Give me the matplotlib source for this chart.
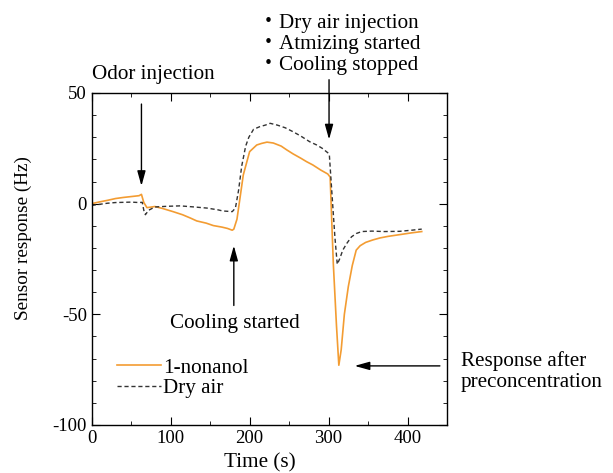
import matplotlib
matplotlib.use("Agg")
import matplotlib.pyplot as plt
from matplotlib.ticker import MultipleLocator

plt.rcParams['font.family'] = ['Liberation Serif', 'Noto Sans CJK JP']
plt.rcParams['axes.unicode_minus'] = False

# 1-nonanol response
t_nonanol = [0, 10, 20, 30, 40, 50, 60, 63, 66, 70, 80, 90, 103, 115, 125, 133, 145, 154, 165, 172, 178,
             180, 184, 188, 192, 200, 209, 215, 222, 230, 240, 247, 255, 265, 272, 280, 290, 299,
             302, 306, 310, 313, 316, 320, 325, 330, 335, 340, 347, 356, 365, 375, 390, 405, 418]
y_nonanol = [0, 0.8, 1.5, 2.3, 2.8, 3.2, 3.6, 4.2, 0.5, -1.8, -1.3, -2.2, -3.6, -5.0, -6.5, -7.8, -8.8, -9.9, -10.6, -11.2, -12.0,
             -11.5, -7, 3, 13, 23.5, 26.5, 27.2, 27.8, 27.4, 26.0, 24.3, 22.5, 20.5, 19.0, 17.5, 15.2, 13.4,
             12, -27, -55, -73, -66, -50, -37.5, -28, -21, -19, -17.5, -16.4, -15.5, -14.8, -14.0, -13.2, -12.6]

# dry air reference
t_dry = [0, 10, 20, 30, 40, 50, 60, 64, 66, 68, 72, 80, 95, 112, 130, 146, 160, 166, 178,
         182, 186, 190, 195, 199, 205, 213, 220, 226, 235, 245, 255, 265, 276, 285, 292, 299,
         301, 304, 308, 311, 314, 318, 323, 329, 335, 342, 355, 370, 390, 405, 418]
y_dry = [-0.8, -0.3, 0.2, 0.5, 0.6, 0.7, 0.5, 0.6, -3, -5, -3, -1.5, -1.2, -1.0, -1.5, -2.0, -2.8, -3.3, -3.6,
         -2, 6, 17, 26, 30, 33.6, 34.8, 35.5, 36.3, 35.5, 34.3, 32.5, 30.5, 28.0, 26.5, 25.0, 23.0,
         22, 6, -15, -27.4, -25, -21, -18, -15, -13.5, -12.6, -12.4, -12.6, -12.5, -12.0, -11.5]

x_ticks = [0, 100, 200, 300, 400]
y_ticks = [-100, -50, 0, 50]

fig = plt.figure(figsize=(6.13, 4.73), dpi=100)
ax = fig.add_axes([0.1496, 0.1015, 0.5796, 0.7019])

ax.plot(t_nonanol, y_nonanol, color='#f39c32', lw=1.2, label='1-nonanol')
ax.plot(t_dry, y_dry, color='#333333', lw=1.0, ls=(0, (3, 2)), label='Dry air')

ax.set_xlim(0, 450)
ax.set_ylim(-100, 50)
ax.set_xticks(x_ticks)
ax.set_yticks(y_ticks)
ax.xaxis.set_minor_locator(MultipleLocator(50))
ax.yaxis.set_minor_locator(MultipleLocator(10))
ax.tick_params(which='both', direction='in', top=True, right=True, labelsize=13.5)
ax.tick_params(which='major', length=6)
ax.tick_params(which='minor', length=3)
for s in ax.spines.values():
    s.set_linewidth(1.0)

fs = 15.2
ax.set_xlabel('Time (s)', fontsize=fs)
ax.xaxis.set_label_coords(0.474, -0.085)
ax.set_ylabel('Sensor response (Hz)', fontsize=13.8)
ax.yaxis.set_label_coords(-0.168, 0.563)

leg = ax.legend(loc='lower left', bbox_to_anchor=(0.071, 0.08), frameon=False,
                fontsize=fs, handlelength=2.1, handletextpad=0.1, borderpad=0,
                borderaxespad=0, labelspacing=0.05)

arrow = dict(arrowstyle='-|>,head_width=0.25,head_length=0.9', color='black', lw=1.0,
             shrinkA=0, shrinkB=0)

ax.text(1.0, 58.3, 'Odor injection', fontsize=fs, ha='left', va='center', clip_on=False)
ax.annotate('', xy=(63, 8), xytext=(63, 45), arrowprops=arrow)

ax.text(210, 72.0, '・Dry air injection\n・Atmizing started\n・Cooling stopped', fontsize=fs,
        ha='left', va='center', linespacing=1.15, clip_on=False)
ax.annotate('', xy=(300.6, 29), xytext=(300.6, 56), arrowprops=arrow, annotation_clip=False)

ax.text(181.6, -54, 'Cooling started', fontsize=fs, ha='center', va='center')
ax.annotate('', xy=(180, -19), xytext=(180, -46), arrowprops=arrow)

ax.text(467.5, -76, 'Response after\npreconcentration', fontsize=fs, ha='left', va='center',
        linespacing=1.15, clip_on=False)
ax.annotate('', xy=(333, -73.3), xytext=(441, -73.3), arrowprops=arrow, annotation_clip=False)

fig.savefig('out.png', dpi=100)
